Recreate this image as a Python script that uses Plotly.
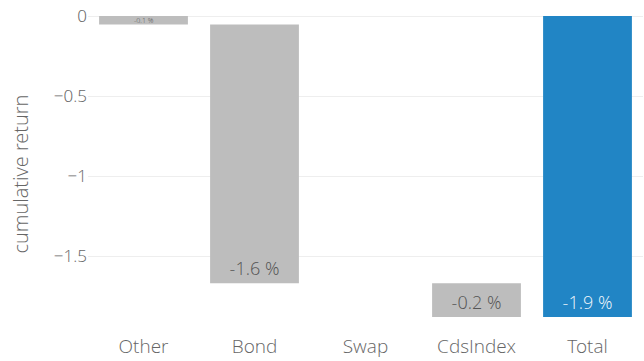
import plotly.graph_objects as go

categories = ["Other", "Bond", "Swap", "CdsIndex", "Total"]
values = [-0.053, -1.617, 0.0, -0.21, 0.0]
measures = ["relative", "relative", "relative", "relative", "total"]
labels = ["-0.1 %", "-1.6 %", "", "-0.2 %", "-1.9 %"]

FONT = "Open Sans Light, Open Sans, sans-serif"

# The first bar is too thin for Plotly's inside text, so it gets a small annotation
bar_text = [""] + labels[1:]

fig = go.Figure(go.Waterfall(
    x=categories,
    y=values,
    measure=measures,
    text=bar_text,
    textposition="inside",
    insidetextanchor="end",
    textangle=0,
    insidetextfont=dict(family=FONT, size=18, weight=300,
                        color=["#555555", "#555555", "#555555", "#555555", "#f0f6fb"]),
    decreasing=dict(marker=dict(color="#bdbdbd")),
    increasing=dict(marker=dict(color="#bdbdbd")),
    totals=dict(marker=dict(color="#2185c5")),
    connector=dict(visible=False),
    width=0.8,
    hoverinfo="skip",
))

fig.update_layout(
    width=644, height=361,
    margin=dict(l=88, r=1, t=0, b=28),
    paper_bgcolor="white", plot_bgcolor="white",
    font=dict(family=FONT, size=18, color="#666666", weight=300),
    showlegend=False,
    xaxis=dict(showgrid=False, automargin=False, tickfont=dict(size=19)),
    yaxis=dict(
        range=[-1.98, 0.1],
        automargin=False,
        tickvals=[0, -0.5, -1, -1.5],
        ticktext=["0", "\u22120.5", "\u22121", "\u22121.5"],
        gridcolor="#eeeeee", zeroline=False,
        tickfont=dict(size=17),
    ),
    annotations=[
        dict(
            text="cumulative return", textangle=-90,
            xref="paper", yref="paper", x=-0.1225, y=0.476,
            xanchor="center", yanchor="middle", showarrow=False,
            font=dict(family=FONT, size=20, color="#666666", weight=300),
        ),
        dict(
            text=labels[0], x=categories[0], y=values[0] / 2,
            xref="x", yref="y", showarrow=False,
            xanchor="center", yanchor="middle",
            font=dict(family=FONT, size=7, color="#555555"),
        ),
    ],
)

fig.write_html("out.html", config={"displayModeBar": False},
               post_script="document.body.style.margin='0';")
